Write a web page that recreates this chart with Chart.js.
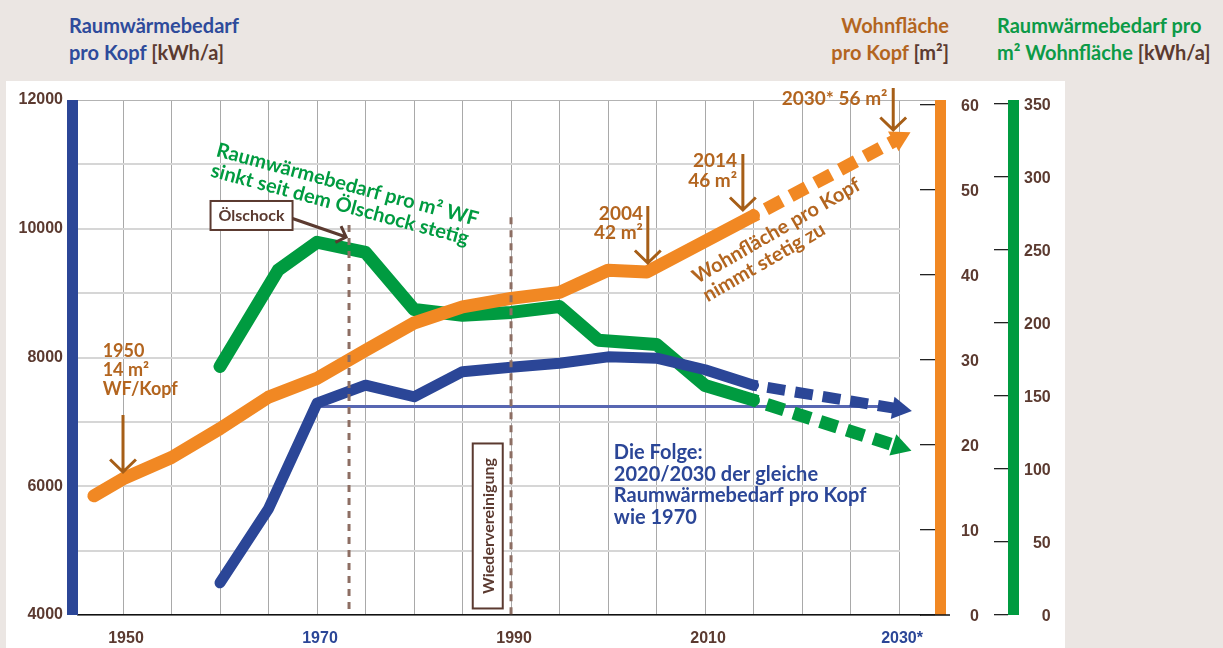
<!DOCTYPE html>
<html lang="de">
<head>
<meta charset="UTF-8">
<title>Raumwärmebedarf und Wohnfläche pro Kopf</title>
<script src="https://cdn.jsdelivr.net/npm/chart.js"></script>
<style>
  html, body { margin: 0; padding: 0; }
  body {
    width: 1223px; height: 648px; overflow: hidden; position: relative;
    background: #ebe6e3; font-family: Lato, "Open Sans", sans-serif;
  }
  #panel { position: absolute; left: 6px; top: 81px; width: 1059px; height: 567px; background: #fff; }
  .title { position: absolute; top: 12px; font-size: 20px; font-weight: 700; line-height: 27px; white-space: nowrap; }
  #t-blue { left: 69px; color: #2e4b9b; }
  #t-orange { right: 274px; text-align: right; color: #b3651f; }
  #t-green { left: 997px; color: #0c9a47; }
  .unit { color: #5b3a30; }
  #chart { position: absolute; left: 0; top: 0; }
</style>
</head>
<body>
<div id="panel"></div>
<div class="title" id="t-blue">Raumwärmebedarf<br>pro Kopf <span class="unit">[kWh/a]</span></div>
<div class="title" id="t-orange">Wohnfläche<br>pro Kopf <span class="unit">[m²]</span></div>
<div class="title" id="t-green">Raumwärmebedarf pro<br>m² Wohnfläche <span class="unit">[kWh/a]</span></div>
<canvas id="chart" width="1223" height="648"></canvas>

<script>
// Raumwärmebedarf pro Kopf [kWh/a] (linke Achse)
const blueYears = [1960, 1965, 1970, 1975, 1980, 1985, 1990, 1995, 2000, 2005, 2010, 2015];
const blueKwh = [4500, 5650, 7290, 7570, 7390, 7780, 7850, 7910, 8010, 7990, 7810, 7570];
const blueForecastYears = [2015, 2030];
const blueForecastKwh = [7570, 7200];
const level1970Years = [1970, 2030];
const level1970Kwh = [7240, 7240];

// Wohnfläche pro Kopf [m²]
const areaYears = [1947, 1950, 1955, 1960, 1965, 1970, 1975, 1980, 1985, 1990, 1995, 2000, 2004, 2015];
const areaM2 = [14.0, 16.0, 18.5, 21.9, 25.6, 27.8, 31.1, 34.3, 36.2, 37.2, 37.9, 40.5, 40.3, 46.9];
const areaForecastYears = [2015, 2030];
const areaForecastM2 = [46.9, 56];

// Raumwärmebedarf pro m² Wohnfläche [kWh/a]
const perM2Years = [1960, 1966, 1970, 1975, 1980, 1985, 1990, 1995, 1999, 2005, 2010, 2015];
const perM2Kwh = [170, 236, 255, 248, 209, 205, 207, 211, 188, 185, 157, 147];
const perM2ForecastYears = [2015, 2030];
const perM2ForecastKwh = [147, 115];

// Ereignisse (gestrichelte Linien)
const eventYears = [1973.3, 1990];
const eventTopKwh = [10060, 10180];

// Achsen
const gridYears = [1950, 1955, 1960, 1965, 1970, 1975, 1980, 1985, 1990, 1995, 2000, 2005, 2010, 2015, 2020, 2025, 2030];
const xLabelYears = [1950, 1970, 1990, 2010, 2030];
const xLabelTexts = ['1950', '1970', '1990', '2010', '2030*'];
const areaTicks = [0, 10, 20, 30, 40, 50, 60];
const perM2Ticks = [0, 50, 100, 150, 200, 250, 300, 350];

const BLUE = '#2b4697';
const ORANGE = '#f18823';
const GREEN = '#009b40';
const BROWN = '#5b3a30';
const ORANGE_TEXT = '#b3651f';
const ARROW = '#a65e17';
const xLabelColors = [BROWN, BLUE, BROWN, BROWN, BLUE];

const pts = (xs, ys) => xs.map((x, i) => ({ x: x, y: ys[i] }));

// rotate the triangle at the end of a forecast line along its direction
function arrowRotation(c) {
    const chart = c.chart;
    const ds = chart.data.datasets[c.datasetIndex];
    const xs = chart.scales.x, ys = chart.scales[ds.yAxisID];
    if (!xs || !ys) return 90;
    const a = ds.data[0], b = ds.data[ds.data.length - 1];
    const dx = xs.getPixelForValue(b.x) - xs.getPixelForValue(a.x);
    const dy = ys.getPixelForValue(b.y) - ys.getPixelForValue(a.y);
    return Math.atan2(dy, dx) * 180 / Math.PI + 90;
}

function forecast(data, color, width, axis) {
    return {
        data: data, yAxisID: axis, borderColor: color, borderWidth: width,
        borderDash: [18, 10], borderDashOffset: -14, borderCapStyle: 'butt',
        pointRadius: [0, 13], pointStyle: 'triangle', pointRotation: arrowRotation,
        pointBackgroundColor: color, pointBorderWidth: 0
    };
}

function solid(data, color, width, axis) {
    return {
        data: data, yAxisID: axis, borderColor: color, borderWidth: width,
        borderCapStyle: 'round', borderJoinStyle: 'round', pointRadius: 0
    };
}

function eventLine(i) {
    return {
        data: pts([eventYears[i], eventYears[i]], [eventTopKwh[i], 4000]), yAxisID: 'y',
        borderColor: '#8d6e63', borderWidth: 3, borderDash: [7, 6], pointRadius: 0
    };
}

// helpers for the notes
function textLines(ctx, lines, x, y, o) {
    ctx.save();
    ctx.translate(x, y);
    ctx.rotate((o.angle || 0) * Math.PI / 180);
    ctx.font = o.font;
    ctx.fillStyle = o.color;
    ctx.textAlign = o.align || 'left';
    ctx.textBaseline = 'alphabetic';
    lines.forEach((t, i) => ctx.fillText(t, 0, i * o.lh));
    ctx.restore();
}

function arrow(ctx, x1, y1, x2, y2, color, head) {
    const ang = Math.atan2(y2 - y1, x2 - x1);
    ctx.save();
    ctx.strokeStyle = color;
    ctx.lineWidth = 3;
    ctx.beginPath();
    ctx.moveTo(x1, y1);
    ctx.lineTo(x2, y2);
    ctx.moveTo(x2 - head * Math.cos(ang - 0.8), y2 - head * Math.sin(ang - 0.8));
    ctx.lineTo(x2, y2);
    ctx.lineTo(x2 - head * Math.cos(ang + 0.8), y2 - head * Math.sin(ang + 0.8));
    ctx.stroke();
    ctx.restore();
}

// horizontal grid lines stop at 2030 (except the top one)
const gridEndPlugin = {
    id: 'gridEnd',
    beforeDatasetsDraw(chart) {
        const { ctx, chartArea: a, scales: { x } } = chart;
        const x0 = x.getPixelForValue(2030) + 1;
        ctx.save();
        ctx.fillStyle = '#fff';
        ctx.fillRect(x0, a.top + 1, a.right - x0, a.bottom - a.top - 2);
        ctx.restore();
    }
};

const notesPlugin = {
    id: 'notes',
    afterDatasetsDraw(chart) {
        const { ctx, scales: { x, y } } = chart;
        const px = v => x.getPixelForValue(v);
        const py = v => y.getPixelForValue(v);
        const f18 = 'bold 18px Lato, sans-serif';
        const f19 = 'bold 19px Lato, sans-serif';
        const f20 = 'bold 20px Lato, sans-serif';

        // Wohnfläche markers
        textLines(ctx, ['1950', '14 m²', 'WF/Kopf'], px(1947.9), py(8010), { font: f18, color: ORANGE_TEXT, lh: 19 });
        arrow(ctx, px(1950), py(7107), px(1950), py(6221), ARROW, 18);
        textLines(ctx, ['2004', '42 m²'], px(2003.6), py(10136), { font: f19, color: ORANGE_TEXT, lh: 19, align: 'right' });
        arrow(ctx, px(2004.1), py(10353), px(2004.1), py(9468), ARROW, 18);
        textLines(ctx, ['2014', '46 m²'], px(2013.3), py(10959), { font: f19, color: ORANGE_TEXT, lh: 20, align: 'right' });
        arrow(ctx, px(2013.9), py(11161), px(2013.9), py(10291), ARROW, 18);
        textLines(ctx, ['2030* 56 m²'], px(2028.8), py(11922), { font: f19, color: ORANGE_TEXT, lh: 20, align: 'right' });
        arrow(ctx, px(2029.4), py(12186), px(2029.4), py(11534), ARROW, 18);
        textLines(ctx, ['Wohnfläche pro Kopf', 'nimmt stetig zu'], px(2009.2), py(9142),
            { font: f20, color: ORANGE_TEXT, lh: 21, angle: -30 });

        // green comment
        textLines(ctx, ['Raumwärmebedarf pro m² WF', 'sinkt seit dem Ölschock stetig'], px(1959.5), py(11130),
            { font: f20, color: GREEN, lh: 21, angle: 15 });

        // blue conclusion
        textLines(ctx, ['Die Folge:', '2020/2030 der gleiche', 'Raumwärmebedarf pro Kopf', 'wie 1970'],
            px(2000.6), py(6423), { font: f20, color: BLUE, lh: 21.5 });

        // Ölschock box
        ctx.save();
        const bx = px(1963.25), by = py(10206);
        ctx.fillStyle = '#fff';
        ctx.strokeStyle = BROWN;
        ctx.lineWidth = 2;
        ctx.fillRect(bx - 41, by - 14.5, 82, 29);
        ctx.strokeRect(bx - 41, by - 14.5, 82, 29);
        ctx.restore();
        textLines(ctx, ['Ölschock'], bx, by + 6, { font: 'bold 16px Lato, sans-serif', color: BROWN, lh: 0, align: 'center' });
        arrow(ctx, bx + 41, by + 3, px(1973.0), py(9872), BROWN, 12);

        // Wiedervereinigung box
        ctx.save();
        const wx = px(1987.6), wy = py(5383);
        ctx.fillStyle = '#fff';
        ctx.strokeStyle = BROWN;
        ctx.lineWidth = 2;
        ctx.fillRect(wx - 15, wy - 82.5, 30, 165);
        ctx.strokeRect(wx - 15, wy - 82.5, 30, 165);
        ctx.restore();
        textLines(ctx, ['Wiedervereinigung'], wx + 6, wy, { font: 'bold 16px Lato, sans-serif', color: BROWN, lh: 0, align: 'center', angle: -90 });
    }
};

// the coloured axis bars
const axisBarsPlugin = {
    id: 'axisBars',
    afterDraw(chart) {
        const { ctx, chartArea: a, scales } = chart;
        ctx.save();
        ctx.fillStyle = BLUE;
        ctx.fillRect(a.left - 11, a.top, 11, a.bottom - a.top);
        ctx.fillStyle = ORANGE;
        ctx.fillRect(scales.yO.left + 15, a.top, 11, a.bottom - a.top);
        ctx.fillStyle = GREEN;
        ctx.fillRect(scales.yG.left + 14, a.top, 11, a.bottom - a.top);
        ctx.strokeStyle = '#111';
        ctx.lineWidth = 1.5;
        ctx.beginPath();
        ctx.moveTo(a.right, a.bottom);
        ctx.lineTo(scales.yO.left + 30, a.bottom);
        ctx.stroke();
        ctx.strokeStyle = '#b3b3b3';
        ctx.lineWidth = 1;
        ctx.beginPath();
        ctx.moveTo(a.right, a.top + 0.5);
        ctx.lineTo(scales.yO.left + 15, a.top + 0.5);
        ctx.stroke();
        ctx.restore();
    }
};

const tickFont = { family: '"Liberation Sans", Arial, sans-serif', weight: 'bold', size: 16 };

// fixed axis widths; label margins must not push the chart area
function fixWidth(w) {
    return s => { s.width = w; s.paddingTop = 0; s.paddingBottom = 0; };
}

new Chart(document.getElementById('chart'), {
    type: 'line',
    data: {
        datasets: [
            eventLine(0),
            eventLine(1),
            solid(pts(blueYears, blueKwh), BLUE, 11, 'y'),
            forecast(pts(blueForecastYears, blueForecastKwh), BLUE, 11, 'y'),
            solid(pts(areaYears, areaM2), ORANGE, 13, 'yO'),
            forecast(pts(areaForecastYears, areaForecastM2), ORANGE, 13, 'yO'),
            solid(pts(perM2Years, perM2Kwh), GREEN, 13, 'yG'),
            forecast(pts(perM2ForecastYears, perM2ForecastKwh), GREEN, 13, 'yG'),
            { data: pts(level1970Years, level1970Kwh), yAxisID: 'y', borderColor: '#5867b2', borderWidth: 3, pointRadius: 0 }
        ]
    },
    options: {
        responsive: false,
        animation: false,
        events: [],
        layout: { padding: { left: 0, right: 170, top: 100, bottom: 0 } },
        plugins: { legend: { display: false }, tooltip: { enabled: false } },
        scales: {
            x: {
                type: 'linear',
                min: 1945.36,
                max: 2032.16,
                afterFit: s => { s.height = 33; },
                afterBuildTicks: s => { s.ticks = gridYears.map(v => ({ value: v })); },
                grid: { color: '#a9a9a9', lineWidth: 1, drawTicks: false },
                border: { display: true, color: '#111', width: 1.5 },
                ticks: {
                    autoSkip: false, maxRotation: 0, padding: 14, labelOffset: 3,
                    font: { family: '"Liberation Sans", Arial, sans-serif', weight: 'bold', size: 16 },
                    color: c => xLabelColors[xLabelYears.indexOf(c.tick.value)] || BROWN,
                    callback: v => {
                        const i = xLabelYears.indexOf(v);
                        return i >= 0 ? xLabelTexts[i] : '';
                    }
                }
            },
            y: {
                position: 'left',
                min: 4000,
                max: 12000,
                afterFit: fixWidth(78),
                grid: {
                    drawTicks: false,
                    color: c => c.tick.value === 12000 ? '#b3b3b3' : '#d6d6d6',
                    lineWidth: c => c.tick.value === 12000 ? 1 : 2
                },
                border: { display: false },
                ticks: {
                    stepSize: 1000, padding: 15, font: tickFont, color: BROWN,
                    callback: v => v % 2000 === 0 ? String(v) : ''
                }
            },
            yO: {
                position: 'right',
                min: 0,
                max: 60.5,
                afterFit: fixWidth(74),
                afterBuildTicks: s => { s.ticks = areaTicks.map(v => ({ value: v })); },
                grid: { drawOnChartArea: false, drawTicks: true, tickLength: 15, color: '#222', lineWidth: 1.3 },
                border: { display: false },
                ticks: {
                    padding: 26, crossAlign: 'near', labelOffset: 2, font: tickFont, color: BROWN,
                    callback: v => String(v).padStart(2, '\u2007')
                }
            },
            yG: {
                position: 'right',
                min: 0,
                max: 352.3,
                afterFit: fixWidth(59),
                afterBuildTicks: s => { s.ticks = perM2Ticks.map(v => ({ value: v })); },
                grid: { drawOnChartArea: false, drawTicks: true, tickLength: 14, color: '#222', lineWidth: 1.3 },
                border: { display: false },
                ticks: {
                    padding: 16, crossAlign: 'near', labelOffset: 2, font: tickFont, color: BROWN,
                    callback: v => String(v).padStart(3, '\u2007')
                }
            }
        }
    },
    plugins: [gridEndPlugin, notesPlugin, axisBarsPlugin]
});
</script>
</body>
</html>
